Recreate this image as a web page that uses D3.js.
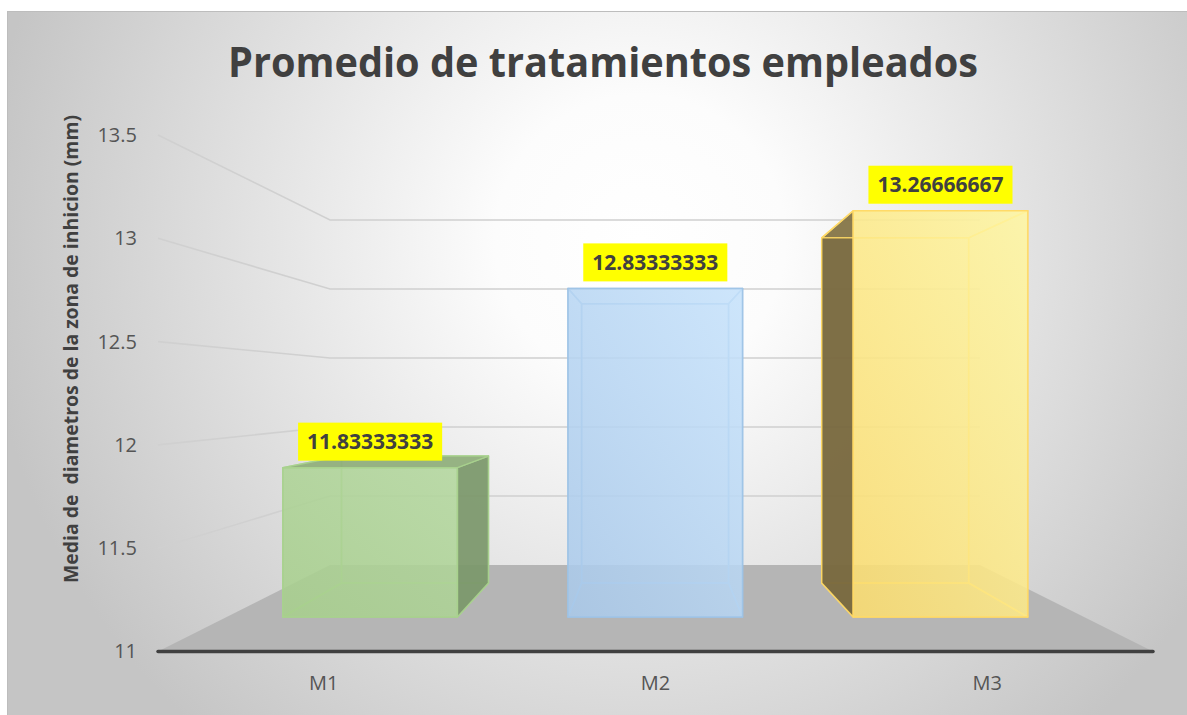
<!DOCTYPE html>
<html>
<head>
<meta charset="utf-8">
<script src="https://cdn.jsdelivr.net/npm/d3@7"></script>
<style>
  body { margin: 0; background: #fff; }
  svg { display: block; font-family: "Open Sans", sans-serif; }
</style>
</head>
<body>
<div id="chart"></div>
<script>
var width = 1187,
    height = 715;

// data
var categories = ["M1", "M2", "M3"];
var means = [11.83333333, 12.83333333, 13.26666667];
var valueLabels = ["11.83333333", "12.83333333", "13.26666667"];
var yTicks = [11, 11.5, 12, 12.5, 13, 13.5];
var chartTitle = "Promedio de tratamientos empleados";
var yTitle = "Media de  diametros de la zona de inhicion (mm)";

// colours per bar: face, edge, dark side, top
var faceTop = ["#b3d79e", "#c6e2fb", "#fff7a3"];
var faceBottom = ["#a7cf8c", "#a9c9ea", "#fbdc6e"];
var edgeColor = ["#a9d18e", "#9dc3e6", "#ffd966"];
var sideColor = ["#7b976a", "#8fb3d6", "#77673d"];
var topColor = ["#8fae7b", "#b3d3f2", "#f6e48a"];

// front plane scales
var x = d3.scaleBand()
    .domain(categories)
    .range([158, 1153])
    .paddingInner(0.388)
    .paddingOuter(0.194);

var y = d3.scaleLinear()
    .domain([11, 13.5])
    .range([651.5, 135]);

// simple perspective: depth 0 = front plane, 1 = back wall
var vx = 654, vy = 391, ax = 0.531, ay = 0.497;
function proj(xf, yf, d) {
  return [vx + (xf - vx) / (1 + ax * d), vy + (yf - vy) / (1 + ay * d)];
}
var d0 = 0.307, d1 = 0.718;
var x0 = x.range()[0], x1 = x.range()[1];

var svg = d3.select("#chart").append("svg")
    .attr("width", width)
    .attr("height", height);

var defs = svg.append("defs");
var bg = defs.append("radialGradient")
    .attr("id", "bg")
    .attr("gradientUnits", "userSpaceOnUse")
    .attr("cx", 640).attr("cy", 240).attr("r", 660);
bg.append("stop").attr("offset", 0).attr("stop-color", "#ffffff");
bg.append("stop").attr("offset", 0.22).attr("stop-color", "#fcfcfc");
bg.append("stop").attr("offset", 1).attr("stop-color", "#c5c5c5");

categories.forEach(function(c, i) {
  var g = defs.append("linearGradient")
      .attr("id", "face" + i)
      .attr("x1", 1).attr("y1", 0).attr("x2", 0).attr("y2", 1);
  g.append("stop").attr("offset", 0).attr("stop-color", faceTop[i]);
  g.append("stop").attr("offset", 1).attr("stop-color", faceBottom[i]);
});

// chart area
svg.append("rect")
    .attr("x", 7.5).attr("y", 11.5)
    .attr("width", width).attr("height", height)
    .attr("fill", "url(#bg)")
    .attr("stroke", "#bdbdbd");

var line = d3.line();

// gridlines on left wall and back wall
svg.append("g")
  .selectAll("path")
    .data(yTicks.filter(function(t) { return t > 11; }))
  .enter().append("path")
    .attr("d", function(t) {
      return line([proj(x0, y(t), 0), proj(x0, y(t), 1), proj(x1, y(t), 1)]);
    })
    .attr("fill", "none")
    .attr("stroke", "#d0d0d0")
    .attr("stroke-width", 1.6);

// floor
svg.append("path")
    .attr("d", line([proj(x0, y(11), 0), proj(x0, y(11), 1), proj(x1, y(11), 1), proj(x1, y(11), 0)]) + "Z")
    .attr("fill", "#b5b5b5");

// bars as transparent boxes
var bars = svg.append("g");
categories.forEach(function(c, i) {
  var L = x(c), R = x(c) + x.bandwidth(), T = y(means[i]), B = y(11);
  var g = bars.append("g");
  function face(pts, fill, op) {
    g.append("path")
      .attr("d", line(pts) + "Z")
      .attr("fill", fill)
      .attr("fill-opacity", op)
      .attr("stroke", edgeColor[i])
      .attr("stroke-opacity", 0.9)
      .attr("stroke-width", 1.5)
      .attr("stroke-linejoin", "round");
  }
  // hidden faces: only faint
  face([proj(L, T, d1), proj(R, T, d1), proj(R, B, d1), proj(L, B, d1)], faceTop[i], 0.12);
  face([proj(L, B, d0), proj(R, B, d0), proj(R, B, d1), proj(L, B, d1)], faceBottom[i], 0.12);
  var rightVis = R < vx, leftVis = L > vx, topVis = T > vy;
  face([proj(R, T, d0), proj(R, T, d1), proj(R, B, d1), proj(R, B, d0)],
       rightVis ? sideColor[i] : faceTop[i], rightVis ? 0.92 : 0.1);
  face([proj(L, T, d0), proj(L, T, d1), proj(L, B, d1), proj(L, B, d0)],
       leftVis ? sideColor[i] : faceTop[i], leftVis ? 0.95 : 0.1);
  face([proj(L, T, d0), proj(R, T, d0), proj(R, T, d1), proj(L, T, d1)],
       topVis ? topColor[i] : faceTop[i], topVis ? 0.92 : 0.1);
  // front face
  face([proj(L, T, d0), proj(R, T, d0), proj(R, B, d0), proj(L, B, d0)], "url(#face" + i + ")", 0.85);
});

// front axis line
svg.append("line")
    .attr("x1", x0).attr("x2", x1)
    .attr("y1", y(11)).attr("y2", y(11))
    .attr("stroke", "#404040")
    .attr("stroke-width", 3.5)
    .attr("stroke-linecap", "round");

// data labels
var labels = svg.append("g");
categories.forEach(function(c, i) {
  var cx = (proj(x(c), 0, d0)[0] + proj(x(c) + x.bandwidth(), 0, d0)[0]) / 2;
  var top = proj(0, y(means[i]), d0)[1];
  var lg = labels.append("g");
  var rect = lg.append("rect").attr("fill", "#ffff00");
  var t = lg.append("text")
      .attr("x", cx)
      .attr("y", top - 7 - 19 + 7.5)
      .attr("text-anchor", "middle")
      .attr("font-size", 21)
      .attr("font-weight", 700)
      .attr("fill", "#404040")
      .text(valueLabels[i]);
  var w = t.node().getComputedTextLength() + 18;
  rect.attr("x", cx - w / 2).attr("y", top - 7 - 38)
      .attr("width", w).attr("height", 38);
});

// value axis (front plane)
svg.append("g")
    .attr("transform", "translate(137,0)")
    .call(d3.axisLeft(y).tickValues(yTicks).tickFormat(d3.format("~g")).tickSize(0).tickPadding(0))
    .call(function(g) { g.select(".domain").remove(); })
    .selectAll("text")
    .attr("font-family", "Open Sans")
    .attr("font-size", 20)
    .attr("fill", "#555555");

// category axis
svg.append("g")
    .attr("transform", "translate(0," + y(11) + ")")
    .call(d3.axisBottom(x).tickSize(0).tickPadding(24))
    .call(function(g) { g.select(".domain").remove(); })
    .selectAll("text")
    .attr("font-family", "Open Sans")
    .attr("font-size", 20)
    .attr("fill", "#555555");

// titles
svg.append("text")
    .attr("x", 603)
    .attr("y", 77)
    .attr("text-anchor", "middle")
    .attr("font-size", 41)
    .attr("font-weight", 700)
    .attr("fill", "#404040")
    .attr("textLength", 750)
    .attr("lengthAdjust", "spacingAndGlyphs")
    .text(chartTitle);

svg.append("text")
    .attr("transform", "translate(78,349) rotate(-90)")
    .attr("text-anchor", "middle")
    .attr("font-size", 19)
    .attr("font-weight", 700)
    .attr("fill", "#404040")
    .attr("textLength", 468)
    .attr("lengthAdjust", "spacingAndGlyphs")
    .style("white-space", "pre")
    .text(yTitle);
</script>
</body>
</html>
